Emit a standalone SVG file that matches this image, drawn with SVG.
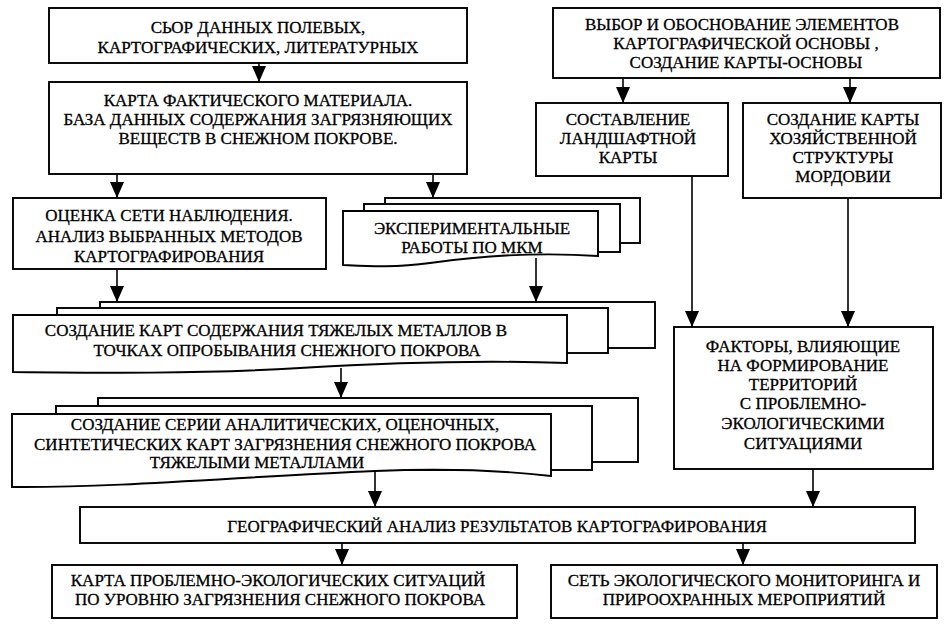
<svg xmlns="http://www.w3.org/2000/svg" width="951" height="625" viewBox="0 0 951 625">
<defs>
<marker id="ah" markerUnits="userSpaceOnUse" markerWidth="16" markerHeight="14" viewBox="0 0 16 14" refX="16" refY="7" orient="auto">
<path d="M0,0 L16,7 L0,14 Z" fill="#000"/>
</marker>
</defs>
<style>
.b{fill:#fff;stroke:#000;stroke-width:1.9}
.c line{stroke:#000;stroke-width:1.6;fill:none}
text{font-family:"Liberation Serif","Times New Roman",serif;font-size:17px;fill:#000;stroke:#000;stroke-width:0.3;text-anchor:middle}
</style>
<rect width="951" height="625" fill="#fff"/>

<g id="n1">
<rect class="b" x="49" y="8" width="418" height="55"/>
<text x="258" y="33">СЬОР ДАННЫХ  ПОЛЕВЫХ,</text>
<text x="258" y="53">КАРТОГРАФИЧЕСКИХ, ЛИТЕРАТУРНЫХ</text>
</g>
<g id="n2">
<rect class="b" x="49" y="82" width="418" height="92"/>
<text x="258" y="106">КАРТА ФАКТИЧЕСКОГО  МАТЕРИАЛА.</text>
<text x="258" y="125">БАЗА ДАННЫХ СОДЕРЖАНИЯ ЗАГРЯЗНЯЮЩИХ</text>
<text x="258" y="144">ВЕЩЕСТВ  В СНЕЖНОМ ПОКРОВЕ.</text>
</g>
<g id="n3">
<rect class="b" x="553" y="8" width="387" height="70"/>
<text x="742" y="30">ВЫБОР  И  ОБОСНОВАНИЕ ЭЛЕМЕНТОВ</text>
<text x="746" y="49">КАРТОГРАФИЧЕСКОЙ ОСНОВЫ ,</text>
<text x="746" y="68">СОЗДАНИЕ КАРТЫ-ОСНОВЫ</text>
</g>
<g id="n4">
<rect class="b" x="536" y="103" width="192" height="73"/>
<text x="628" y="125">СОСТАВЛЕНИЕ</text>
<text x="628" y="144">ЛАНДШАФТНОЙ</text>
<text x="628" y="163">КАРТЫ</text>
</g>
<g id="n5">
<rect class="b" x="743" y="103" width="198" height="95"/>
<text x="843" y="125">СОЗДАНИЕ КАРТЫ</text>
<text x="843" y="144">ХОЗЯЙСТВЕННОЙ</text>
<text x="843" y="163">СТРУКТУРЫ</text>
<text x="843" y="182">МОРДОВИИ</text>
</g>
<g id="n6">
<rect class="b" x="13" y="198" width="313" height="71"/>
<text x="169" y="221">ОЦЕНКА СЕТИ НАБЛЮДЕНИЯ.</text>
<text x="169" y="242">АНАЛИЗ ВЫБРАННЫХ МЕТОДОВ</text>
<text x="169" y="262">КАРТОГРАФИРОВАНИЯ</text>
</g>
<g id="n7">
<rect class="b" x="385" y="198" width="255" height="45"/>
<rect class="b" x="364" y="204" width="256" height="48"/>
<path class="b" d="M343,211 H598 V256 C540,252 480,256 430,263 C395,268 365,266 343,265 Z"/>
<text x="472" y="234">ЭКСПЕРИМЕНТАЛЬНЫЕ</text>
<text x="472" y="253">РАБОТЫ ПО МКМ</text>
</g>
<g id="n8">
<rect class="b" x="100" y="302" width="555" height="46"/>
<rect class="b" x="57" y="308" width="551" height="45"/>
<path class="b" d="M13,315 H567 V363 C480,360 400,362 300,368 C200,374 100,373 13,372 Z"/>
<text x="276" y="336">СОЗДАНИЕ КАРТ СОДЕРЖАНИЯ ТЯЖЕЛЫХ МЕТАЛЛОВ В</text>
<text x="287" y="356">ТОЧКАХ ОПРОБЫВАНИЯ  СНЕЖНОГО ПОКРОВА</text>
</g>
<g id="n9">
<rect class="b" x="674" y="327" width="259" height="142"/>
<text x="803" y="352">ФАКТОРЫ, ВЛИЯЮЩИЕ</text>
<text x="803" y="371">НА ФОРМИРОВАНИЕ</text>
<text x="803" y="390">ТЕРРИТОРИЙ</text>
<text x="803" y="409">С ПРОБЛЕМНО-</text>
<text x="803" y="429">ЭКОЛОГИЧЕСКИМИ</text>
<text x="803" y="449">СИТУАЦИЯМИ</text>
</g>
<g id="n10">
<rect class="b" x="98" y="398" width="540" height="64"/>
<rect class="b" x="56" y="406" width="536" height="64"/>
<path class="b" d="M12,414 H551 V476 C500,470 450,468 375,471 C250,476 120,488 12,487 Z"/>
<text x="285" y="430">СОЗДАНИЕ СЕРИИ АНАЛИТИЧЕСКИХ, ОЦЕНОЧНЫХ,</text>
<text x="285" y="450">СИНТЕТИЧЕСКИХ  КАРТ ЗАГРЯЗНЕНИЯ СНЕЖНОГО ПОКРОВА</text>
<text x="257" y="468">ТЯЖЕЛЫМИ МЕТАЛЛАМИ</text>
</g>
<g id="n11">
<rect class="b" x="80" y="507" width="835" height="36"/>
<text x="497" y="532">ГЕОГРАФИЧЕСКИЙ АНАЛИЗ РЕЗУЛЬТАТОВ КАРТОГРАФИРОВАНИЯ</text>
</g>
<g id="n12">
<rect class="b" x="52" y="565" width="465" height="53"/>
<text x="278" y="586">КАРТА ПРОБЛЕМНО-ЭКОЛОГИЧЕСКИХ СИТУАЦИЙ</text>
<text x="280" y="605">ПО УРОВНЮ ЗАГРЯЗНЕНИЯ СНЕЖНОГО ПОКРОВА</text>
</g>
<g id="n13">
<rect class="b" x="551" y="565" width="386" height="53"/>
<text x="744" y="586">СЕТЬ ЭКОЛОГИЧЕСКОГО МОНИТОРИНГА И</text>
<text x="744" y="605">ПРИРООХРАННЫХ МЕРОПРИЯТИЙ</text>
</g>

<g id="connectors" class="c">
<line x1="259" y1="63" x2="259" y2="82" marker-end="url(#ah)"/>
<line x1="117" y1="174" x2="117" y2="198" marker-end="url(#ah)"/>
<line x1="433" y1="174" x2="433" y2="198" marker-end="url(#ah)"/>
<line x1="623" y1="78" x2="623" y2="103" marker-end="url(#ah)"/>
<line x1="850" y1="78" x2="850" y2="103" marker-end="url(#ah)"/>
<line x1="117" y1="269" x2="117" y2="302" marker-end="url(#ah)"/>
<line x1="536" y1="258" x2="536" y2="302" marker-end="url(#ah)"/>
<line x1="692" y1="176" x2="692" y2="327" marker-end="url(#ah)"/>
<line x1="848" y1="198" x2="848" y2="327" marker-end="url(#ah)"/>
<line x1="341" y1="368" x2="341" y2="398" marker-end="url(#ah)"/>
<line x1="375" y1="471" x2="375" y2="507" marker-end="url(#ah)"/>
<line x1="813" y1="469" x2="813" y2="507" marker-end="url(#ah)"/>
<line x1="342" y1="543" x2="342" y2="565" marker-end="url(#ah)"/>
<line x1="743" y1="543" x2="743" y2="565" marker-end="url(#ah)"/>
</g>
</svg>
